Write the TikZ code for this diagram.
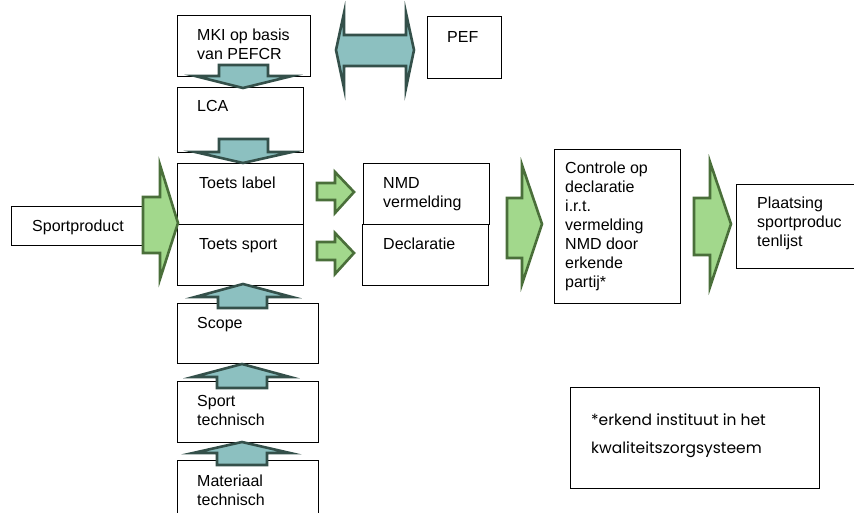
\documentclass[tikz,border=0pt]{standalone}
\usepackage{fontspec}
\setmainfont{Liberation Sans}
\newfontfamily\notefont{Poppins}
\definecolor{tealfill}{HTML}{8CC0C0}
\definecolor{tealline}{HTML}{34504A}
\definecolor{greenfill}{HTML}{A2D88C}
\definecolor{greenline}{HTML}{4A6F3A}
\begin{document}
\begin{tikzpicture}[x=1pt,y=-1pt,
  box/.style={draw=black,line width=0.9pt,fill=white,anchor=north west,inner sep=0pt},
  txt/.style={anchor=base west,inner sep=0pt,font=\fontsize{16}{19}\selectfont},
  tealarrow/.style={fill=tealfill,draw=tealline,line width=2.6pt,line join=miter},
  greenarrow/.style={fill=greenfill,draw=greenline,line width=2.6pt,line join=miter}]
\useasboundingbox (0,0) rectangle (854,513);
% boxes
\node[box,minimum width=133pt,minimum height=61pt] (mki) at (177,15) {};
\node[box,minimum width=74pt,minimum height=62pt] (pef) at (427,16) {};
\node[box,minimum width=126pt,minimum height=65pt] (lca) at (177,87) {};
\node[box,minimum width=126pt,minimum height=61pt] (tl) at (177,163) {};
\node[box,minimum width=126pt,minimum height=61pt] (ts) at (177,224) {};
\node[box,minimum width=132pt,minimum height=39pt] (sp) at (11,206) {};
\node[box,minimum width=126pt,minimum height=61pt] (nmd) at (363,163) {};
\node[box,minimum width=126pt,minimum height=61pt] (decl) at (362,224) {};
\node[box,minimum width=126pt,minimum height=154pt] (ctrl) at (554,149) {};
\node[box,minimum width=130pt,minimum height=84pt] (plaats) at (736,184) {};
\node[box,minimum width=141pt,minimum height=60pt] (scope) at (177,303) {};
\node[box,minimum width=141pt,minimum height=61pt] (stech) at (177,381) {};
\node[box,minimum width=141pt,minimum height=70pt] (mtech) at (177,460) {};
\node[box,minimum width=249pt,minimum height=101pt] (note) at (570,387) {};
% texts
\node[txt] (tmki) at ([shift={(20,26)}]mki.north west) {\begin{tabular}[t]{@{}l@{}}MKI op basis\\van PEFCR\end{tabular}};
\node[txt] (tpef) at ([shift={(20,27)}]pef.north west) {PEF};
\node[txt] (tlca) at ([shift={(20,25)}]lca.north west) {LCA};
\node[txt] (ttl) at ([shift={(22,26)}]tl.north west) {Toets label};
\node[txt] (tts) at ([shift={(22,26)}]ts.north west) {Toets sport};
\node[txt] (tsp) at ([shift={(21,26)}]sp.north west) {Sportproduct};
\node[txt] (tnmd) at ([shift={(20,26)}]nmd.north west) {\begin{tabular}[t]{@{}l@{}}NMD\\vermelding\end{tabular}};
\node[txt] (tdecl) at ([shift={(21,26)}]decl.north west) {Declaratie};
\node[txt] (tctrl) at ([shift={(11,25)}]ctrl.north west) {\begin{tabular}[t]{@{}l@{}}Controle op\\declaratie\\i.r.t.\\vermelding\\NMD door\\erkende\\partij*\end{tabular}};
\node[txt] (tpl) at ([shift={(21,25)}]plaats.north west) {\begin{tabular}[t]{@{}l@{}}Plaatsing\\sportproduc\\tenlijst\end{tabular}};
\node[txt] (tscope) at ([shift={(20,25)}]scope.north west) {Scope};
\node[txt] (tstech) at ([shift={(20,25)}]stech.north west) {\begin{tabular}[t]{@{}l@{}}Sport\\technisch\end{tabular}};
\node[txt] (tmtech) at ([shift={(20,26)}]mtech.north west) {\begin{tabular}[t]{@{}l@{}}Materiaal\\technisch\end{tabular}};
\node[anchor=base west,inner sep=0pt,font=\notefont\fontsize{15.5}{28}\selectfont] (tnote) at ([shift={(21,38)}]note.north west) {\begin{tabular}[t]{@{}l@{}}*erkend instituut in het\\kwaliteitszorgsysteem\end{tabular}};
% teal block arrows (down)
\draw[tealarrow] (219,65) -- (268,65) -- (268,76) -- (292,76) -- (243,88) -- (195,76) -- (219,76) -- cycle;
\draw[tealarrow] (219,139) -- (268,139) -- (268,152) -- (292,152) -- (243,163) -- (195,152) -- (219,152) -- cycle;
% teal block arrows (up)
\draw[tealarrow] (218,308) -- (267,308) -- (267,297) -- (292,297) -- (243,284) -- (195,297) -- (218,297) -- cycle;
\draw[tealarrow] (217,388) -- (267,388) -- (267,377) -- (290,377) -- (242,364) -- (193,377) -- (217,377) -- cycle;
\draw[tealarrow] (217,465) -- (267,465) -- (267,453) -- (290,453) -- (242,442) -- (193,453) -- (217,453) -- cycle;
% double arrow MKI <-> PEF
\draw[tealarrow] (336,50) -- (344,13) -- (344,35) -- (406,35) -- (406,13) -- (414,50) -- (406,88) -- (406,66) -- (344,66) -- (344,88) -- cycle;
% green block arrows
\draw[greenarrow] (143,197) -- (160,197) -- (160,165) -- (178,223) -- (160,279) -- (160,253) -- (143,253) -- cycle;
\draw[greenarrow] (317,183) -- (335,183) -- (335,172) -- (354,192) -- (335,213) -- (335,200) -- (317,200) -- cycle;
\draw[greenarrow] (317,242) -- (335,242) -- (335,233) -- (354,253) -- (335,274) -- (335,260) -- (317,260) -- cycle;
\draw[greenarrow] (507,198) -- (522,198) -- (522,165) -- (542,224) -- (522,284) -- (522,258) -- (507,258) -- cycle;
\draw[greenarrow] (694,198) -- (710,198) -- (710,162) -- (731,224) -- (710,287) -- (710,255) -- (694,255) -- cycle;
\end{tikzpicture}
\end{document}
